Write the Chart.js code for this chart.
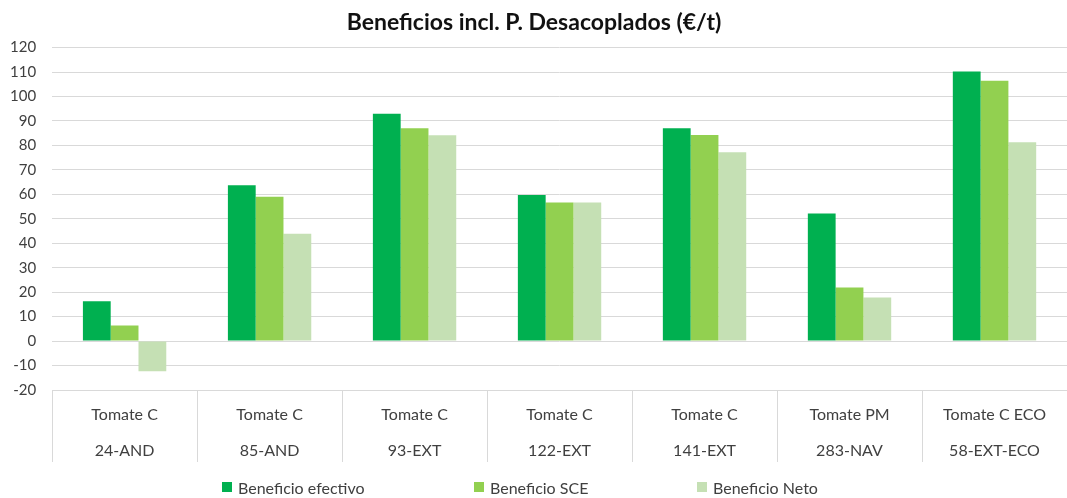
<!DOCTYPE html>
<html lang="es">
<head>
<meta charset="utf-8">
<title>Beneficios incl. P. Desacoplados</title>
<script src="https://cdn.jsdelivr.net/npm/chart.js@4.4.1/dist/chart.umd.min.js"></script>
<style>
  html, body { margin: 0; padding: 0; background: #fff; }
  #wrap { position: relative; width: 1067px; height: 498px; }
  #legend { position: absolute; left: 222px; top: 477px; height: 20px; display: flex; align-items: center;
            font: 16px Lato, Carlito, Calibri, sans-serif; color: #404040; }
  #legend .item { display: flex; align-items: center; }
  #legend .box { width: 10px; height: 10px; margin-right: 6px; }
</style>
</head>
<body>
<div id="wrap">
  <canvas id="beneficiosChart"></canvas>
  <div id="legend"></div>
</div>
<script>
// ---- data ----
const categories = [
  ['Tomate C', '24-AND'],
  ['Tomate C', '85-AND'],
  ['Tomate C', '93-EXT'],
  ['Tomate C', '122-EXT'],
  ['Tomate C', '141-EXT'],
  ['Tomate PM', '283-NAV'],
  ['Tomate C ECO', '58-EXT-ECO'],
];
const beneficioEfectivo = [16.3, 63.7, 93.0, 59.7, 87.0, 52.2, 110.2];
const beneficioSCE      = [6.4, 59.0, 87.0, 56.7, 84.3, 21.9, 106.4];
const beneficioNeto     = [-12.3, 43.9, 84.2, 56.7, 77.2, 17.8, 81.3];
const yMin = -20, yMax = 120, yStep = 10;

const textColor = '#404040';
const gridColor = '#d9d9d9';
const font = 'Lato, Carlito, Calibri, sans-serif';

const chart = new Chart(document.getElementById('beneficiosChart'), {
  type: 'bar',
  data: {
    labels: categories,
    datasets: [
      { label: 'Beneficio efectivo', data: beneficioEfectivo, backgroundColor: '#00b050' },
      { label: 'Beneficio SCE', data: beneficioSCE, backgroundColor: '#92d050' },
      { label: 'Beneficio Neto', data: beneficioNeto, backgroundColor: '#c5e0b4' },
    ]
  },
  options: {
    responsive: true, maintainAspectRatio: false, animation: false,
    datasets: { bar: { categoryPercentage: 0.575, barPercentage: 1, borderWidth: 0 } },
    layout: { padding: { left: -6, right: -7, top: 0, bottom: 28 } },
    plugins: {
      title: {
        display: true, text: 'Beneficios incl. P. Desacoplados (€/t)',
        color: '#111', font: { family: font, size: 23, weight: 'bold' },
        padding: { top: 9, bottom: 11 }
      },
      legend: { display: false },
      tooltip: { enabled: false }
    },
    scales: {
      x: {
        grid: { color: gridColor, drawOnChartArea: false, drawTicks: true, tickLength: 72, offset: true },
        border: { color: gridColor },
        ticks: { color: textColor, font: { family: font, size: 16, lineHeight: 2.3 }, padding: -66, maxRotation: 0, autoSkip: false },
        afterFit: scale => { scale.height = 80; }
      },
      y: {
        min: yMin, max: yMax,
        grid: { color: gridColor, drawTicks: false },
        border: { display: false },
        ticks: { stepSize: yStep, color: textColor, font: { family: font, size: 15 }, padding: 16 }
      }
    }
  }
});

// ---- legend (HTML, built from the chart's datasets) ----
const itemWidths = [252, 223, null];
const legendEl = document.getElementById('legend');
chart.data.datasets.forEach((ds, i) => {
  const item = document.createElement('div');
  item.className = 'item';
  if (itemWidths[i]) item.style.width = itemWidths[i] + 'px';
  const box = document.createElement('span');
  box.className = 'box';
  box.style.background = ds.backgroundColor;
  const txt = document.createElement('span');
  txt.textContent = ds.label;
  item.append(box, txt);
  legendEl.appendChild(item);
});
</script>
</body>
</html>
